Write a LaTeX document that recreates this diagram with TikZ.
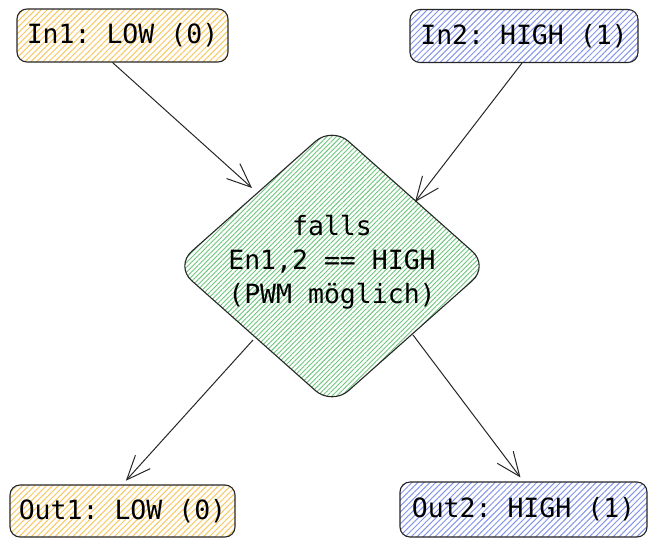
\documentclass[tikz,border=0pt]{standalone}
\usepackage{fontspec}
\setmonofont{DejaVu Sans Mono}
\usetikzlibrary{shapes.geometric,arrows.meta,patterns.meta}
\definecolor{hyellow}{HTML}{F7C862}
\definecolor{hblue}{HTML}{8596EA}
\definecolor{hgreen}{HTML}{6CC67C}
\tikzset{
  lbl/.style={font=\ttfamily\fontsize{26.5}{34}\selectfont, text=black},
  box/.style={lbl, draw=black!85, line width=1.1pt, rounded corners=10pt, inner sep=0pt, align=center},
  hatchY/.style={pattern={Lines[angle=45,distance=4.2pt,line width=1.0pt]}, pattern color=hyellow},
  hatchB/.style={pattern={Lines[angle=45,distance=4.2pt,line width=1.0pt]}, pattern color=hblue},
  hatchG/.style={pattern={Lines[angle=45,distance=3.4pt,line width=0.9pt]}, pattern color=hgreen},
  conn/.style={draw=black!85, line width=1.0pt, -{Straight Barb[length=24pt,width=20pt,line width=1.0pt]}},
}
\begin{document}
\begin{tikzpicture}[x=1pt,y=-1pt]
\useasboundingbox (0,0) rectangle (657,550);
\node[box, hatchY, minimum width=211pt, minimum height=53pt] (in1) at (122.5,35.5) {In1: LOW (0)};
\node[box, hatchB, minimum width=228pt, minimum height=53pt] (in2) at (524,36) {In2: HIGH (1)};
\node[box, hatchY, minimum width=225pt, minimum height=52pt] (out1) at (122.5,511) {Out1: LOW (0)};
\node[box, hatchB, minimum width=247pt, minimum height=55pt] (out2) at (523.5,509.5) {Out2: HIGH (1)};
\node[diamond, draw=black!85, line width=1.1pt, hatchG, rounded corners=22pt,
      minimum width=314pt, minimum height=279pt, inner sep=0pt] (d) at (332,266) {};
\node[lbl, align=center] (dt) at (332,262) {falls\\En1,2 == HIGH\\(PWM möglich)};
\coordinate (t1) at ([shift={(-80,-78)}]d.center);
\coordinate (t2) at ([shift={(83,-64)}]d.center);
\coordinate (s1) at ([shift={(-79,74)}]d.center);
\coordinate (s2) at ([shift={(81,69)}]d.center);
\draw[conn] ([xshift=-10pt]in1.south) -- (t1);
\draw[conn] ([xshift=-2pt]in2.south) -- (t2);
\draw[conn, shorten >=5pt] (s1) -- (out1.north);
\draw[conn, shorten >=5pt] (s2) -- (out2.north);
\end{tikzpicture}
\end{document}
